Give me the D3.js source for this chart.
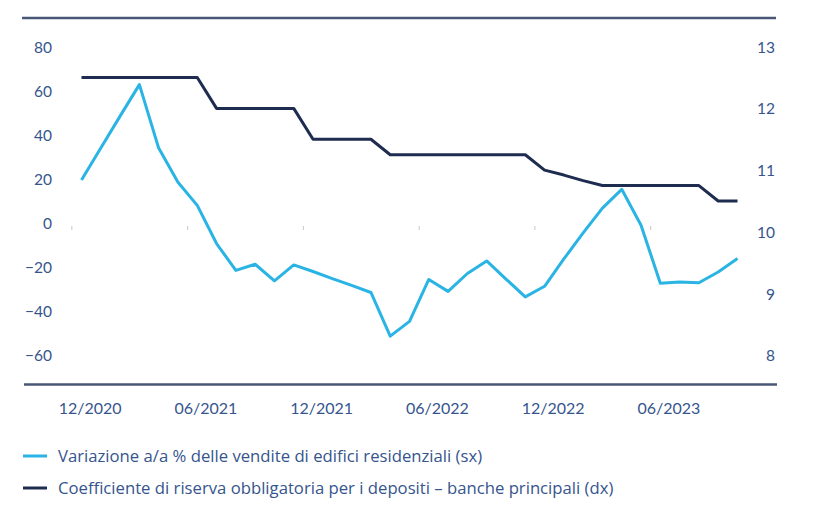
<!DOCTYPE html>
<html><head><meta charset="utf-8">
<script src="https://cdn.jsdelivr.net/npm/d3@7"></script>
<style>body{margin:0;background:#fff}svg{display:block}text{font-family:Lato,"Open Sans",sans-serif}</style>
</head><body><svg id="c" width="813" height="508"></svg>
<script>
const months = d3.range(35); // 12/2020 .. 10/2023
const salesYoY = [19.5,34,48.5,62.8,34,18.5,8,-9.3,-21.5,-18.7,-26.2,-19,-22,-25.2,-28.3,-31.5,-51.3,-44.6,-25.6,-31,-22.9,-17.2,-25.4,-33.5,-28.7,-16.3,-4.5,6.8,15.3,-1,-27.3,-26.7,-27.1,-22.2,-16.1];
const rrr = [12.5,12.5,12.5,12.5,12.5,12.5,12.5,12,12,12,12,12,11.5,11.5,11.5,11.5,11.25,11.25,11.25,11.25,11.25,11.25,11.25,11.25,11,10.92,10.83,10.75,10.75,10.75,10.75,10.75,10.75,10.5,10.5];
const xTickLabels = ["12/2020","06/2021","12/2021","06/2022","12/2022","06/2023"];
const xTickIdx = [0,6,12,18,24,30];
const leftTicks = [80,60,40,20,0,-20,-40,-60];
const rightTicks = [13,12,11,10,9,8];
const legendLabels = ["Variazione a/a % delle vendite di edifici residenziali (sx)","Coefficiente di riserva obbligatoria per i depositi \u2013 banche principali (dx)"];

const BLUE="#2ab4e4", NAVY="#1e2c50", TXT="#36558d", FRAME="#4a5878";
const svg=d3.select("#c");
const x=d3.scaleLinear().domain([0,34]).range([81.5,737.5]);
const yL=d3.scaleLinear().domain([-60,80]).range([355.3,46.7]);
const yR=d3.scaleLinear().domain([8,13]).range([355.3,46.7]);

// frame lines
svg.append("line").attr("x1",22).attr("x2",776).attr("y1",18).attr("y2",18).attr("stroke",FRAME).attr("stroke-width",2.5);
svg.append("line").attr("x1",24).attr("x2",777).attr("y1",384.5).attr("y2",384.5).attr("stroke",FRAME).attr("stroke-width",2.5);

// small category ticks
svg.selectAll(".tk").data(xTickIdx).enter().append("line")
  .attr("x1",d=>x(d-0.5)).attr("x2",d=>x(d-0.5)).attr("y1",226).attr("y2",230)
  .attr("stroke","#c8c8c8").attr("stroke-width",1);

// left axis
const gL=svg.append("g").attr("transform","translate(52,0)")
  .call(d3.axisLeft(yL).tickValues(leftTicks).tickSize(0).tickPadding(0).tickFormat(d=>d<0?"\u2212"+Math.abs(d):d));
gL.select(".domain").remove();
gL.selectAll("text").attr("fill",TXT).attr("font-size",15.5).attr("dy","0.35em");

// right axis
const gR=svg.append("g").attr("transform","translate(775,0)")
  .call(d3.axisRight(yR).tickValues(rightTicks).tickSize(0).tickPadding(0).tickFormat(d3.format("d")));
gR.select(".domain").remove();
gR.selectAll("text").attr("fill",TXT).attr("font-size",15.5).attr("text-anchor","end").attr("dy","0.35em");

// x labels
const gX=svg.append("g").attr("transform","translate(0,408)")
  .call(d3.axisBottom(x).tickValues(xTickIdx.map(d=>d+0.42)).tickSize(0).tickPadding(0).tickFormat((d,i)=>xTickLabels[i]));
gX.select(".domain").remove();
gX.selectAll("text").attr("fill",TXT).attr("font-size",16).attr("dy","0.35em");

// lines
svg.append("path").datum(months).attr("fill","none").attr("stroke",NAVY).attr("stroke-width",3).attr("stroke-linejoin","round")
  .attr("d",d3.line().x(i=>x(i)).y(i=>yR(rrr[i])));
svg.append("path").datum(months).attr("fill","none").attr("stroke",BLUE).attr("stroke-width",3).attr("stroke-linejoin","round")
  .attr("d",d3.line().x(i=>x(i)).y(i=>yL(salesYoY[i])));

// legend
const lg=svg.selectAll(".lg").data(legendLabels).enter().append("g").attr("transform",(d,i)=>`translate(0,${456+i*32})`);
lg.append("line").attr("x1",23).attr("x2",47).attr("y1",0).attr("y2",0).attr("stroke-width",3).attr("stroke",(d,i)=>i?NAVY:BLUE);
lg.append("text").attr("x",58).attr("y",0).attr("dy","0.35em").attr("fill",TXT).attr("font-size",16.7).style("font-family","'Open Sans',sans-serif").text(d=>d);
</script></body></html>
